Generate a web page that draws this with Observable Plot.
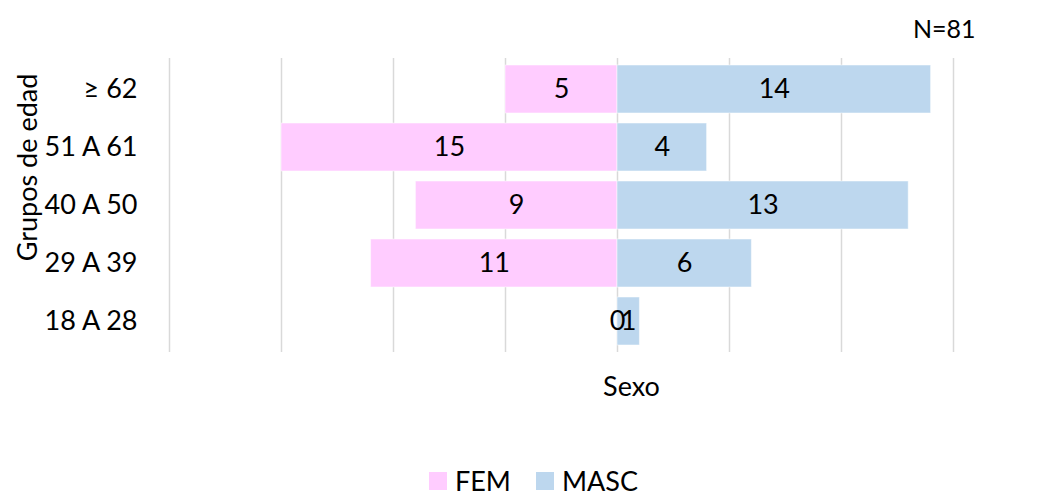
<!DOCTYPE html>
<html><head><meta charset="utf-8">
<script src="https://cdn.jsdelivr.net/npm/d3@7"></script>
<script src="https://cdn.jsdelivr.net/npm/@observablehq/plot@0.6"></script>
<style>
body{margin:0;background:#fff;font-family:Lato,sans-serif;overflow:hidden;}
#wrap{position:relative;width:1056px;height:493px;overflow:hidden;}
#legend{position:absolute;left:429px;top:470px;height:22px;display:flex;align-items:center;font-size:27px;line-height:22px;color:#000;}
#legend span.sw{display:inline-block;width:18px;height:18px;margin-right:8px;}
</style></head>
<body><div id="wrap"><div id="chart"></div>
<div id="legend"><span class="sw" style="background:#FFCCFF"></span><span style="margin-right:25px">FEM</span><span class="sw" style="background:#BDD7EE"></span><span>MASC</span></div></div>
<script>
const groups = ["≥ 62", "51 A 61", "40 A 50", "29 A 39", "18 A 28"];
const fem = [5, 15, 9, 11, 0];
const masc = [14, 4, 13, 6, 1];
const seriesNames = ["FEM", "MASC"];
const seriesColors = ["#FFCCFF", "#BDD7EE"];
const gridTicks = [-20, -15, -10, -5, 0, 5, 10, 15];

const rows = [];
groups.forEach((g, i) => {
  rows.push({group: g, sex: "FEM", value: fem[i], x1: -fem[i], x2: 0});
  rows.push({group: g, sex: "MASC", value: masc[i], x1: 0, x2: masc[i]});
});

const chart = Plot.plot({
  width: 1056,
  height: 460,
  marginTop: 58,
  marginBottom: 108,
  marginLeft: 169,
  marginRight: 103,
  style: {fontFamily: "Lato, sans-serif", fontSize: "27px", color: "#000", background: "#fff"},
  x: {domain: [-20, 15], axis: null},
  y: {domain: groups, paddingInner: 0.17, paddingOuter: 0.08, label: null, axis: null},
  color: {domain: seriesNames, range: seriesColors},
  marks: [
    Plot.ruleX(gridTicks, {stroke: "#D9D9D9", strokeWidth: 1.5, strokeOpacity: 1}),
    Plot.barX(rows, {y: "group", x1: "x1", x2: "x2", fill: "sex", stroke: "#fff", strokeOpacity: 0.5, strokeWidth: 1}),
    Plot.text(rows, {y: "group", x: d => (d.x1 + d.x2) / 2, text: d => String(d.value), fill: "#000", fontSize: 27}),
    Plot.axisY({tickSize: 0, tickPadding: 32, fontSize: 27, label: null}),
    Plot.text(["Grupos de edad"], {frameAnchor: "left", textAnchor: "middle", dx: -141, dy: -38, rotate: -90, fontSize: 27, fill: "#000"}),
    Plot.text(["Sexo"], {frameAnchor: "bottom", dx: 70, dy: 43, fontSize: 27, fill: "#000"}),
    Plot.text(["N=81"], {frameAnchor: "top-right", dx: 22, dy: -38, textAnchor: "end", fontSize: 25, fill: "#000"})
  ]
});
document.getElementById("chart").appendChild(chart);
</script></body></html>
